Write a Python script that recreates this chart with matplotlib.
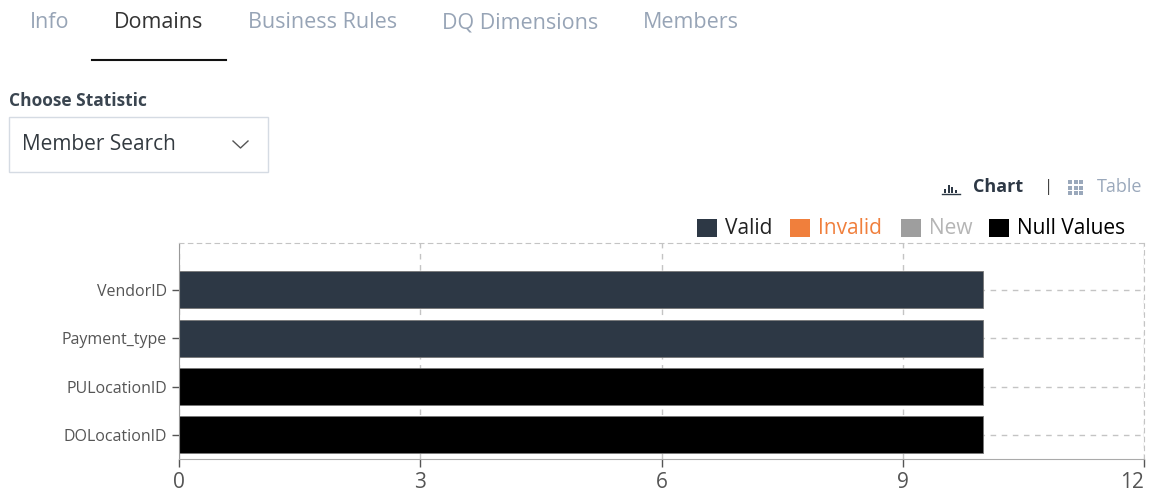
import matplotlib.pyplot as plt
from matplotlib.patches import Rectangle
from matplotlib.lines import Line2D

# data
columns = ['VendorID', 'Payment_type', 'PULocationID', 'DOLocationID']
counts = [10, 10, 10, 10]
status = ['Valid', 'Valid', 'Null Values', 'Null Values']
x_ticks = [0, 3, 6, 9, 12]

tabs = ['Info', 'Domains', 'Business Rules', 'DQ Dimensions', 'Members']
tab_x = [30, 114, 248, 442, 643]
legend_names = ['Valid', 'Invalid', 'New', 'Null Values']
legend_colors = ['#2d3845', '#f07f3c', '#9e9e9e', '#000000']
legend_text_colors = ['#222222', '#f07f3c', '#b5b5b5', '#000000']
legend_x = [697, 790, 901, 989]

W, H = 1151, 491
fig = plt.figure(figsize=(W / 100, H / 100), dpi=100)
plt.rcParams['font.family'] = ['Open Sans', 'DejaVu Sans']


def fx(px):
    return px / W


def fy(py):
    return 1 - py / H


# tabs
for name, x in zip(tabs, tab_x):
    col = '#333333' if name == 'Domains' else '#97a4b6'
    fig.text(fx(x), fy(23), name, fontsize=15.5, color=col, va='center', ha='left')
fig.add_artist(Line2D([fx(92), fx(226)], [fy(60), fy(60)], color='#111111', lw=1.5))

# dropdown
fig.text(fx(9), fy(101), 'Choose Statistic', fontsize=12.5, fontweight='bold', color='#3a4550', va='center')
fig.add_artist(Rectangle((fx(9), fy(172)), fx(259), 55 / H, transform=fig.transFigure,
                         fill=False, edgecolor='#d5dbe3', lw=1))
fig.text(fx(22), fy(145), 'Member Search', fontsize=15, color='#333a40', va='center')
fig.add_artist(Line2D([fx(233), fx(240.5), fx(248)], [fy(141), fy(148), fy(141)], color='#555555', lw=1))

# chart / table switch
for i, h in enumerate([4, 8, 6, 3]):
    fig.add_artist(Rectangle((fx(944 + i * 3.5), fy(193)), 2 / W, h / H, transform=fig.transFigure,
                             color='#2d3845', lw=0))
fig.add_artist(Line2D([fx(942), fx(960)], [fy(194), fy(194)], color='#2d3845', lw=1))
fig.text(fx(973), fy(187), 'Chart', fontsize=13, fontweight='bold', color='#2d3845', va='center')
fig.text(fx(1044), fy(187), '|', fontsize=12, color='#444444', va='center')
for i in range(3):
    for j in range(3):
        fig.add_artist(Rectangle((fx(1068 + i * 5.5), fy(184 + j * 5.5)), 4 / W, 4 / H,
                                 transform=fig.transFigure, color='#9aa8bb', lw=0))
fig.text(fx(1097), fy(187), 'Table', fontsize=13, color='#9aa8bb', va='center')

# legend
for name, x, c, tc in zip(legend_names, legend_x, legend_colors, legend_text_colors):
    fig.add_artist(Rectangle((fx(x), fy(237)), 20 / W, 18 / H, transform=fig.transFigure, color=c, lw=0))
    fig.text(fx(x + 28), fy(228), name, fontsize=15, color=tc, va='center')

# the chart
ax = fig.add_axes([fx(179), fy(459), fx(1144 - 179), (459 - 243) / H])
ypos = list(range(len(columns)))
colors = [legend_colors[legend_names.index(s)] for s in status]
ax.set_axisbelow(True)
ax.grid(True, axis='both', linestyle=(0, (4, 4)), color='#c4c4c4', lw=1)
ax.barh(ypos, counts, height=0.77, color=colors, edgecolor='#777777', lw=0.6)
ax.set_xlim(0, 12)
ax.set_ylim(3.5, -0.97)
ax.set_xticks(x_ticks)
ax.set_yticks(ypos)
ax.set_yticklabels(columns)
ax.tick_params(axis='y', labelsize=11.5, labelcolor='#555555', color='#555555', length=5, width=1)
ax.tick_params(axis='x', labelsize=15, labelcolor='#555555', color='#555555', length=6, width=1)
ax.get_xticklabels()[-1].set_horizontalalignment('right')
for side in ['top', 'right']:
    ax.spines[side].set_linestyle((0, (4, 4)))
    ax.spines[side].set_color('#c4c4c4')
ax.spines['left'].set_color('#999999')
ax.spines['bottom'].set_color('#aaaaaa')

fig.savefig('out.png', dpi=100)
